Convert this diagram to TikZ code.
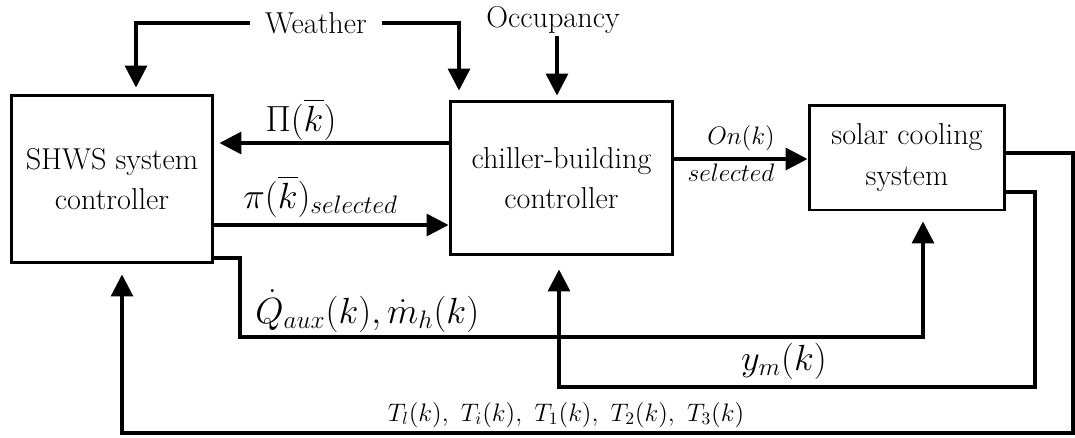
\documentclass[tikz,border=0pt]{standalone}
\usepackage{amsmath}
\usepackage{tikz}
\usetikzlibrary{positioning, shapes, arrows.meta, calc}

\begin{document}
\begin{tikzpicture}[x=0.02cm, y=-0.02cm,
    block/.style={rectangle, draw, line width=1.7pt, align=center, inner sep=0pt,
                  font=\fontsize{17.2}{23}\selectfont},
    flow/.style={line width=2pt, -{Triangle[length=0.44cm, width=0.44cm]}},
    txt/.style={font=\fontsize{17.2}{20}\selectfont, inner sep=0.05cm},
    lbl/.style={font=\fontsize{20}{24}\selectfont, inner sep=0pt},
    small/.style={font=\fontsize{14}{17}\selectfont, inner sep=0pt}]
  \useasboundingbox (0,0) rectangle (1075,437);

  % Nodes
  \node[block, minimum width=4.04cm, minimum height=3.36cm] (shws) at (112,179) {SHWS system\\controller};
  \node[block, minimum width=4.46cm, minimum height=3.08cm] (chiller) at (561.5,178) {chiller-building\\controller};
  \node[block, minimum width=3.92cm, minimum height=2.1cm] (solar) at (907,157.5) {solar cooling\\system};
  \node[txt, inner xsep=0.3cm, anchor=base] (weather) at (316,33) {Weather};
  \node[txt, anchor=base] (occupancy) at (553,27) {Occupancy};

  % Labels
  \node[lbl, anchor=base] (pilabel) at (301,131) {$\Pi(\overline{k})$};
  \node[lbl, anchor=base west] (pisel) at (243,208) {$\pi(\overline{k})_{selected}$};
  \node[small, anchor=base] (onlabel) at (741,144) {$On(k)$};
  \node[small, anchor=base] (onsel) at (731,181) {$selected$};
  \node[lbl, anchor=base west] (qlabel) at (255,323) {$\dot{Q}_{aux}(k), \dot{m}_h(k)$};
  \node[lbl, anchor=base] (ylabel) at (784,370) {$y_m(k)$};
  \node[small, anchor=base] (tlabel) at (566,421) {$T_l(k),\ T_i(k),\ T_1(k),\ T_2(k),\ T_3(k)$};

  % Arrows
  \draw[flow, shorten >=0.12cm] (weather.west) -| (136,0 |- shws.north);
  \draw[flow, shorten >=0.18cm] (weather.east) -| (459,0 |- chiller.north);
  \draw[flow, shorten >=0.08cm] (557,0 |- occupancy.south) -- (557,0 |- chiller.north);
  \draw[flow, shorten >=0.1cm] (chiller.west |- 0,143) -- (shws.east |- 0,143);
  \draw[flow] (shws.east |- 0,225) -- (chiller.west |- 0,225);
  \draw[flow] (chiller.east |- 0,159) -- (solar.west |- 0,159);

  % Feedback
  \draw[flow, shorten >=0.2cm] (shws.east |- 0,258) -- (240,258) -- (240,337) -| (923,0 |- solar.south);
  \draw[flow, shorten >=0.26cm] (solar.east |- 0,192) -- (1035,192) |- (559,387) -- (559,0 |- chiller.south);
  \draw[flow, line width=1.8pt, shorten >=0.2cm] (solar.east |- 0,153) -- (1073,153) |- (122,433) -- (122,0 |- shws.south);
\end{tikzpicture}
\end{document}
